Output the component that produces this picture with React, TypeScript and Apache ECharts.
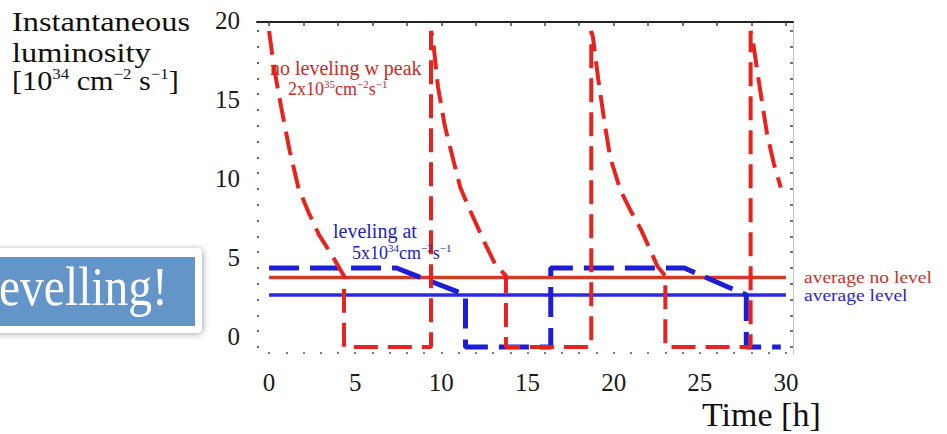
import React, { useEffect, useRef } from "react";
import * as echarts from "echarts";

// ---- data ----
const xLabelValues = [0, 5, 10, 15, 20, 25, 30];
const yLabelValues = [0, 5, 10, 15, 20];

// no leveling, peak 2x10^35 (time [h], luminosity [1e34])
const noLevelT = [0, 0.3, 0.7, 1.2, 1.7, 2.3, 2.9, 3.6, 4.35, 4.35, 9.4, 9.4, 9.5, 9.8, 10.2, 10.7, 11.1, 11.6, 12.1, 12.6, 13.1, 13.75, 13.75, 18.7, 18.7, 18.8, 19.1, 19.5, 19.8, 20.4, 21.0, 21.6, 22.1, 22.55, 23.0, 23.0, 27.95, 27.95, 28.05, 28.4, 28.9, 29.3, 29.7];
const noLevelL = [20, 17.6, 15.2, 12.4, 10.1, 8.5, 7.1, 5.9, 4.5, 0, 0, 20, 19.6, 16.5, 14, 11.8, 10.1, 8.8, 7.6, 6.4, 5.3, 4.5, 0, 0, 20, 19.6, 17, 14, 12, 9.9, 8.6, 7.4, 6.2, 5.1, 4.5, 0, 0, 20, 19.6, 17, 13.5, 11.6, 10.1];

// leveling at 5x10^34
const levelT = [0, 7.4, 11.4, 11.4, 16.35, 16.35, 24.1, 27.7, 27.7, 29.7];
const levelL = [5, 5, 3.3, 0, 0, 5, 5, 3.3, 0, 0];

// averages
const avgT = [0, 30];
const avgNoLevel = [4.4, 4.4];
const avgLevel = [3.3, 3.3];

const zip = (a: number[], b: number[]) => a.map((v, i) => [v, b[i]]);
const range = (a: number, b: number, s: number) => {
  const r: number[] = [];
  for (let v = a; v <= b + 1e-9; v += s) r.push(v);
  return r;
};

const SERIF = "'Liberation Serif', 'DejaVu Serif', serif";
const RED = "#e8231d";
const BLUE = "#1d1dd6";

export default function App() {
  const ref = useRef<HTMLDivElement>(null);
  useEffect(() => {
    if (!ref.current) return;
    const chart = echarts.init(ref.current, undefined, { renderer: "svg" });
    const xMin = -0.7, xMax = 30.41, yMin = -0.44, yMax = 20.57;
    const sup = (size: number, fill: string) => ({ fontSize: size, fontFamily: SERIF, fill, padding: [0, 0, Math.round(size * 0.9), 0] });
    const option: any = {
      animation: false,
      grid: { left: 257, right: 154, top: 22, bottom: 80, outerBoundsMode: "none", containLabel: false },
      xAxis: [
        {
          type: "value", position: "bottom", min: xMin, max: xMax,
          splitLine: { show: false },
          axisLine: { show: false, onZero: false },
          axisTick: { show: true, inside: true, length: 2, customValues: range(0, 30, 1), lineStyle: { color: "#555", width: 1.5 } },
          axisLabel: { customValues: xLabelValues, margin: 16, fontSize: 25, fontFamily: SERIF, color: "#1a1a1a" },
        },
        {
          type: "value", position: "top", min: xMin, max: xMax,
          splitLine: { show: false },
          axisLine: { show: true, onZero: false, lineStyle: { color: "#222", width: 2 } },
          axisTick: { show: true, inside: true, length: 4, customValues: range(0, 30, 2), lineStyle: { color: "#444", width: 1.5 } },
          axisLabel: { show: false },
        },
      ],
      yAxis: [
        {
          type: "value", position: "left", min: yMin, max: yMax,
          splitLine: { show: false },
          axisLine: { show: false, onZero: false },
          axisTick: { show: true, inside: true, length: 2, customValues: range(0, 20, 1), lineStyle: { color: "#333", width: 1.5 } },
          axisLabel: { customValues: yLabelValues, margin: 17, fontSize: 25, fontFamily: SERIF, color: "#1a1a1a", verticalAlign: "bottom", lineHeight: 22 },
        },
        {
          type: "value", position: "right", min: yMin, max: yMax,
          splitLine: { show: false },
          axisLine: { show: true, onZero: false, lineStyle: { color: "#c8c8c8", width: 1 } },
          axisTick: { show: true, inside: true, length: 3, customValues: range(0, 20, 1), lineStyle: { color: "#444", width: 1.5 } },
          axisLabel: { show: false },
        },
      ],
      series: [
        {
          type: "line", name: "average no level", data: zip(avgT, avgNoLevel), showSymbol: false, z: 2,
          lineStyle: { color: "#d3392b", width: 3.5 },
        },
        {
          type: "line", name: "average level", data: zip(avgT, avgLevel), showSymbol: false, z: 2,
          lineStyle: { color: "#2a2ae2", width: 3.5 },
        },
        {
          type: "line", name: "leveling", data: zip(levelT, levelL), showSymbol: false, z: 3,
          lineStyle: { color: BLUE, width: 5, type: [30, 11] },
        },
        {
          type: "line", name: "no leveling", data: zip(noLevelT, noLevelL), showSymbol: false, z: 4,
          lineStyle: { color: RED, width: 4, type: [24, 10] },
        },
      ],
      graphic: [
        // y-axis title
        {
          type: "text", x: 12, y: 8, scaleX: 1.2, z: 10,
          style: { text: "Instantaneous", fontSize: 27, fontFamily: SERIF, fill: "#111" },
        },
        {
          type: "text", x: 12, y: 39, scaleX: 1.2, z: 10,
          style: { text: "luminosity", fontSize: 27, fontFamily: SERIF, fill: "#111" },
        },
        {
          type: "text", x: 12, y: 66, scaleX: 1.12, z: 10,
          style: {
            text: "{a|[10}{s|34}{a| cm}{s|−2}{a| s}{s|−1}{a|]}",
            rich: { a: { fontSize: 27, fontFamily: SERIF, fill: "#111" }, s: sup(15, "#111") },
          },
        },
        // annotation: no leveling
        {
          type: "text", x: 270, y: 58, z: 10,
          style: { text: "no leveling w peak", fontSize: 20, fontFamily: SERIF, fill: "#cc2a22" },
        },
        {
          type: "text", x: 288, y: 78, z: 10,
          style: {
            text: "{a|2x10}{s|35}{a|cm}{s|−2}{a|s}{s|−1}",
            rich: { a: { fontSize: 18, fontFamily: SERIF, fill: "#cc2a22" }, s: sup(11, "#cc2a22") },
          },
        },
        // annotation: leveling
        {
          type: "text", x: 333, y: 221, z: 10,
          style: { text: "leveling at", fontSize: 20, fontFamily: SERIF, fill: "#2424b4" },
        },
        {
          type: "text", x: 352, y: 242, z: 10,
          style: {
            text: "{a|5x10}{s|34}{a|cm}{s|−2}{a|s}{s|−1}",
            rich: { a: { fontSize: 18, fontFamily: SERIF, fill: "#2424b4" }, s: sup(11, "#2424b4") },
          },
        },
        // right labels
        {
          type: "text", x: 804, y: 269, scaleX: 1.15, z: 10,
          style: { text: "average no level", fontSize: 17, fontFamily: SERIF, fill: "#c8342a" },
        },
        {
          type: "text", x: 804, y: 287, scaleX: 1.15, z: 10,
          style: { text: "average level", fontSize: 17, fontFamily: SERIF, fill: "#2a2ac8" },
        },
        // x-axis title
        {
          type: "text", x: 702, y: 397, z: 10,
          style: { text: "Time [h]", fontSize: 34, fontFamily: SERIF, fill: "#111" },
        },
        // overlay box
        {
          type: "rect", z: 20,
          shape: { x: -10, y: 248, width: 212, height: 85, r: 5 },
          style: { fill: "#ffffff", shadowBlur: 6, shadowColor: "rgba(0,0,0,0.35)", shadowOffsetX: 1, shadowOffsetY: 1 },
        },
        {
          type: "rect", z: 21,
          shape: { x: -10, y: 257, width: 205, height: 69 },
          style: { fill: "#6395c9" },
        },
        {
          type: "text", x: -1, y: 260, scaleX: 0.88, z: 22,
          style: { text: "evelling!", fontSize: 54, fontFamily: SERIF, fill: "#ffffff" },
        },
      ],
    };
    chart.setOption(option);
    return () => chart.dispose();
  }, []);
  return <div ref={ref} style={{ width: 947, height: 434, position: "absolute", left: 0, top: 0 }} />;
}
